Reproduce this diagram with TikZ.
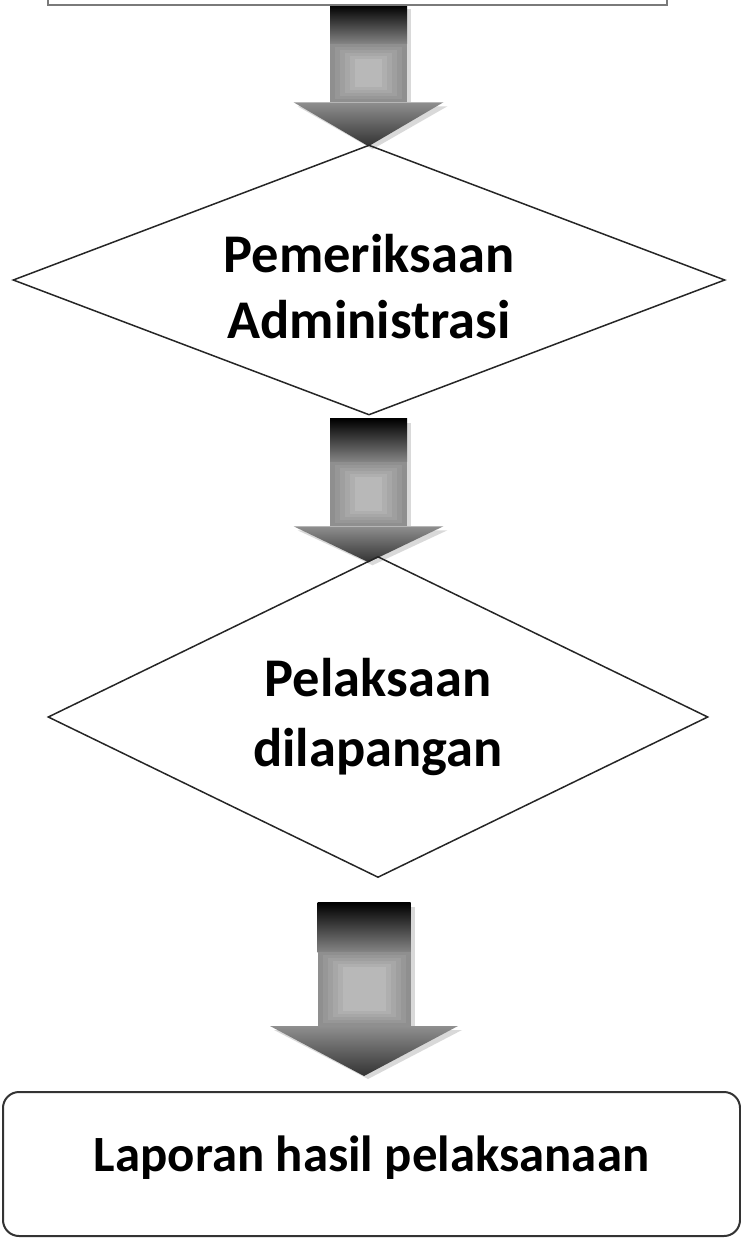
\documentclass[tikz,border=0pt]{standalone}
\usepackage{fontspec}
\setmainfont{Carlito}
\usetikzlibrary{shapes.geometric, calc}
\pgfdeclarelayer{background}
\pgfsetlayers{background,main}

\definecolor{boxgray}{gray}{0.48}
\definecolor{bandgray}{gray}{0.52}
\definecolor{shaftgray}{gray}{0.56}
\definecolor{glowgray}{gray}{0.72}
\definecolor{headdark}{gray}{0.2}

\tikzset{
  decision/.style={diamond, draw=black!85, line width=1.5pt, inner sep=0pt, align=center,
    font=\fontsize{54.5}{66}\selectfont\bfseries},
  report/.style={draw=black!80, line width=2pt, rounded corners=16pt,
    font=\fontsize{50.8}{60}\selectfont\bfseries}
}

% fat shaded arrow: start, end, shaft half width, head half width, head length
\newcommand{\fatarrow}[5]{%
  \begin{pgfonlayer}{background}
  \coordinate (fa top) at #1;
  \coordinate (fa end) at #2;
  \coordinate (fa tip) at (fa top |- fa end);
  \coordinate (fa neck) at ($(fa tip)+(0,-#5)$);
  \coordinate (fa mid) at ($(fa top)!0.4!(fa neck)$);
  % shadow
  \fill[gray!30] ($(fa top)+(-#3+4,4)$) rectangle ($(fa neck)+(#3+4,0)$);
  \fill[gray!30] ($(fa neck)+(-#4+4,4)$) -- ($(fa neck)+(#4+4,4)$) -- ($(fa tip)+(4,3)$) -- cycle;
  % shaft
  \shade[top color=black, bottom color=bandgray] ($(fa top)+(-#3,0)$) rectangle ($(fa mid)+(#3,0)$);
  \foreach \k/\t in {0/0,1/20,2/40,3/60,4/80,5/100}
    \fill[glowgray!\t!shaftgray] ($(fa mid)+(-#3+\k*5,\k*3)$) rectangle ($(fa neck)+(#3-\k*5,-\k*3)$);
  % head
  \shade[top color=shaftgray, bottom color=headdark] ($(fa neck)+(-#4,0)$) -- ($(fa neck)+(#4,0)$) -- (fa tip) -- cycle;
  \end{pgfonlayer}
}

\begin{document}
\begin{tikzpicture}[x=1pt, y=-1pt]
  \useasboundingbox (0,0) rectangle (741,1239);

  % boxes
  \node[draw=boxgray, line width=2pt, minimum width=619pt, minimum height=60pt] (top) at (357.5,-25) {};
  \node[decision, shape aspect=2.64, minimum width=712pt, minimum height=270pt, text height=118pt] (adm) at (369,280) {Pemeriksaan\\Administrasi};
  \node[decision, shape aspect=2.06, minimum width=660pt, minimum height=321pt, font=\fontsize{54.5}{70}\selectfont\bfseries] (lap) at (378,717) {Pelaksaan\\dilapangan};
  \node[report, minimum width=737pt, minimum height=144pt, text depth=20pt] (rep) at (371.5,1164) {Laporan hasil pelaksanaan};

  % arrows
  \fatarrow{($(top.south)+(11,-1)$)}{($(adm.north)+(0,2)$)}{38.5}{75}{44}
  \fatarrow{($(adm.south)+(-0.5,3)$)}{($(lap.north)+(0,6.5)$)}{38.5}{75}{36}
  \fatarrow{($(lap.south)+(-14,24.5)$)}{($(rep.north)+(0,-15)$)}{46.5}{94}{50}
\end{tikzpicture}
\end{document}
